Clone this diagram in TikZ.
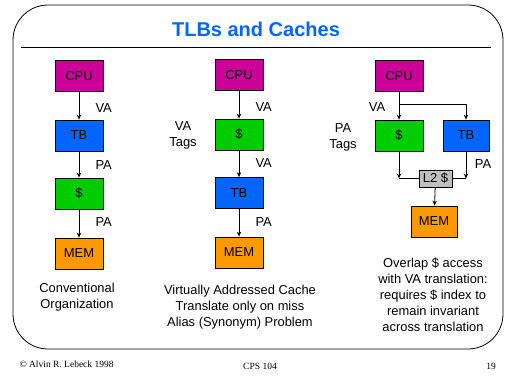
\documentclass[tikz,border=0pt]{standalone}
\usepackage{fontspec}
\setmainfont{Liberation Sans}
\newfontfamily\footfont{Liberation Serif}
\usetikzlibrary{arrows.meta, positioning}
\definecolor{cpumag}{HTML}{CC0099}
\definecolor{tbblue}{HTML}{0066FF}
\definecolor{cachegreen}{HTML}{00CC00}
\definecolor{memorange}{HTML}{FF9900}
\definecolor{ltwogray}{HTML}{C0C0C0}

\begin{document}
\begin{tikzpicture}[x=1pt, y=-1pt,
  blk/.style={draw, line width=0.8pt, minimum width=48pt, minimum height=31pt,
    inner sep=0pt, font=\fontsize{13}{15}\selectfont},
  arr/.style={-{Stealth[length=5pt, width=4.5pt]}, line width=0.8pt},
  lbl/.style={font=\fontsize{13}{16}\selectfont, align=center},
  captxt/.style={align=center, font=\fontsize{12.9}{16}\selectfont},
  foot/.style={font=\footfont\fontsize{9.5}{11}\selectfont}]
  \useasboundingbox (0,0) rectangle (512,384);

  % frame and title
  \draw[line width=0.8pt, rounded corners=35pt] (13,5) rectangle (503,349);
  \node[font=\bfseries\fontsize{20}{24}\selectfont, text=tbblue] (title) at (256,29) {TLBs and Caches};
  \draw[line width=0.8pt] (21,47) -- (491,47);

  % conventional
  \node[blk, fill=cpumag] (cpuA) at (79,76) {CPU};
  \node[blk, fill=tbblue] (tbA) at (79,135.5) {TB};
  \node[blk, fill=cachegreen] (cacheA) at (79,193.5) {\$};
  \node[blk, fill=memorange] (memA) at (79,253.5) {MEM};
  \draw[arr] (cpuA) -- (tbA);
  \draw[arr] (tbA) -- (cacheA);
  \draw[arr] (cacheA) -- (memA);
  \node[lbl, anchor=west] (vaA) at (92,108) {VA};
  \node[lbl, anchor=west] (paA) at (92,165) {PA};
  \node[lbl, anchor=west] (paA2) at (92,222) {PA};
  \node[captxt] (capA) at (77,297.5) {Conventional\\Organization};

  % virtually addressed
  \node[blk, fill=cpumag] (cpuB) at (239,75) {CPU};
  \node[blk, fill=cachegreen] (cacheB) at (239,134.5) {\$};
  \node[blk, fill=tbblue] (tbB) at (239,193) {TB};
  \node[blk, fill=memorange] (memB) at (239,252.5) {MEM};
  \draw[arr] (cpuB) -- (cacheB);
  \draw[arr] (cacheB) -- (tbB);
  \draw[arr] (tbB) -- (memB);
  \node[lbl, anchor=west] (vaB) at (252,107) {VA};
  \node[lbl, anchor=west] (vaB2) at (252,163) {VA};
  \node[lbl, anchor=west] (paB) at (252,222) {PA};
  \node[lbl] (tagsB) at (183,135) {VA\\Tags};
  \node[captxt] (capB) at (240,307) {Virtually Addressed Cache\\Translate only on miss\\Alias (Synonym) Problem};

  % overlapped
  \node[blk, fill=cpumag] (cpuC) at (399,76) {CPU};
  \node[blk, fill=cachegreen] (cacheC) at (399,135.5) {\$};
  \node[blk, fill=tbblue, minimum width=46pt] (tbC) at (466,135.5) {TB};
  \node[blk, fill=ltwogray, minimum width=33pt, minimum height=17pt] (l2C) at (435.5,178.5) {L2 \$};
  \node[blk, fill=memorange, minimum width=46pt] (memC) at (434,221.5) {MEM};
  \coordinate (fork) at (399,104);
  \coordinate (joinL) at (cacheC.south |- l2C.west);
  \coordinate (joinR) at (tbC.south |- l2C.east);
  \draw[arr] (cpuC) -- (cacheC);
  \draw[arr] (fork) -| (tbC.north);
  \draw[arr] (cacheC) -- (joinL);
  \draw[line width=0.8pt] (joinL) -- (l2C.west);
  \draw[arr] (tbC) -- (joinR);
  \draw[line width=0.8pt] (joinR) -- (l2C.east);
  \draw[arr] (l2C) -- (memC);
  \node[lbl] (vaC) at (377,107) {VA};
  \node[lbl] (paC) at (483,164) {PA};
  \node[lbl] (tagsC) at (343,137) {PA\\Tags};
  \node[captxt] (capC) at (433,295) {Overlap \$ access\\with VA translation:\\requires \$ index to\\remain invariant\\across translation};

  % footer
  \node[foot, anchor=west] (copy) at (16,364) {\textcopyright\ Alvin R. Lebeck 1998};
  \node[foot] (course) at (260,366) {CPS 104};
  \node[foot] (page) at (491,366) {19};
\end{tikzpicture}
\end{document}
